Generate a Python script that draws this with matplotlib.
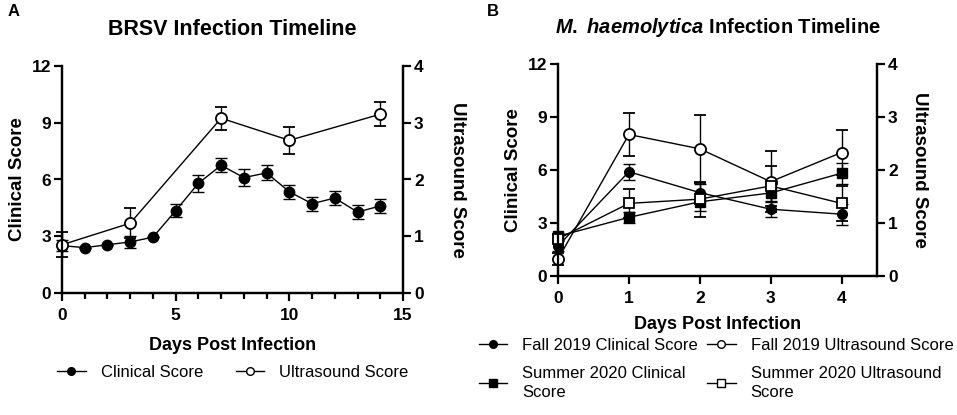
import numpy as np
import matplotlib
matplotlib.use("Agg")
import matplotlib.pyplot as plt
from matplotlib.ticker import MultipleLocator
from matplotlib.lines import Line2D

plt.rcParams['font.family'] = ['Liberation Sans', 'DejaVu Sans']
plt.rcParams['mathtext.fontset'] = 'custom'
plt.rcParams['mathtext.it'] = 'Liberation Sans:italic:bold'
plt.rcParams['mathtext.rm'] = 'Liberation Sans:bold'

# panel A: BRSV
days_a = [0, 1, 2, 3, 4, 5, 6, 7, 8, 9, 10, 11, 12, 13, 14]
clin_a = [2.5, 2.4, 2.55, 2.7, 2.95, 4.35, 5.8, 6.75, 6.1, 6.35, 5.35, 4.72, 5.02, 4.28, 4.6]
clin_a_err = [0.3, 0.0, 0.0, 0.3, 0.0, 0.35, 0.45, 0.37, 0.45, 0.4, 0.37, 0.37, 0.35, 0.37, 0.37]
us_days_a = [0, 3, 7, 10, 14]
us_a = [0.85, 1.23, 3.08, 2.69, 3.15]
us_a_err = [0.22, 0.26, 0.2, 0.24, 0.21]

# panel B: M. haemolytica
days_b = [0, 1, 2, 3, 4]
fall_clin = [1.7, 5.9, 4.72, 3.78, 3.5]
fall_clin_err = [0.3, 0.45, 0.5, 0.45, 0.6]
summer_clin = [2.25, 3.32, 4.2, 4.7, 5.82]
summer_clin_err = [0.2, 0.32, 0.5, 0.5, 0.6]
fall_us = [0.32, 2.67, 2.4, 1.78, 2.33]
fall_us_err = [0.12, 0.4, 0.64, 0.57, 0.42]
summer_us = [0.7, 1.37, 1.45, 1.7, 1.37]
summer_us_err = [0.07, 0.27, 0.33, 0.37, 0.33]

W, H = 957, 415
fig = plt.figure(figsize=(W / 100, H / 100), dpi=100)


def px_axes(l, t, r, b):
    return fig.add_axes([l / W, 1 - b / H, (r - l) / W, (b - t) / H])


def style(ax, ax2, rpad, xpad):
    for a in (ax, ax2):
        for s in a.spines.values():
            s.set_linewidth(1.6)
        a.spines['top'].set_visible(False)
        a.tick_params(direction='out', length=6, width=1.6, labelsize=12.5, pad=2)
    ax.tick_params(axis='x', pad=5)
    ax.tick_params(axis='x', which='minor', length=4, width=1.6, direction='out')
    ax.set_ylim(0, 12)
    ax.set_yticks([0, 3, 6, 9, 12])
    ax2.set_ylim(0, 4)
    ax2.set_yticks([0, 1, 2, 3, 4])
    for lab in ax.get_yticklabels() + ax2.get_yticklabels() + ax.get_xticklabels():
        lab.set_fontweight('bold')
    ax.set_ylabel('Clinical Score', fontsize=13.5, fontweight='bold', labelpad=4)
    ax2.set_ylabel('Ultrasound Score', fontsize=13.5, fontweight='bold', rotation=270, labelpad=rpad)
    ax.set_xlabel('Days Post Infection', fontsize=13, fontweight='bold', labelpad=xpad)


def handle(marker, filled):
    return Line2D([], [], color='black', lw=1.0, marker=marker, ms=5.5,
                  mfc='black' if filled else 'white', mec='black', mew=1.0)


eb = dict(color='black', lw=1.0, capsize=4, elinewidth=1.0, capthick=1.0, clip_on=False)

# ---- panel A
ax = px_axes(62, 66, 403, 293)
ax2 = ax.twinx()
ax.errorbar(days_a, clin_a, yerr=clin_a_err, fmt='-o', ms=7.5, mfc='black', mec='black', **eb)
ax2.errorbar(us_days_a, us_a, yerr=us_a_err, fmt='-o', ms=8, mfc='white', mec='black', mew=1.3, **eb)
ax.set_xlim(0, 15)
ax.set_xticks([0, 5, 10, 15])
ax.xaxis.set_minor_locator(MultipleLocator(1))
style(ax, ax2, 30, 10)
ax.set_title('BRSV Infection Timeline', fontsize=15.5, fontweight='bold', pad=22)
fig.legend([handle('o', True), handle('o', False)], ['Clinical Score', 'Ultrasound Score'],
           ncol=2, frameon=False, loc='center', bbox_to_anchor=(233 / W, 1 - 372 / H),
           fontsize=12, handlelength=1.7, columnspacing=2.0, handletextpad=0.9)
fig.text(8 / W, 1 - 12 / H, 'A', fontsize=12, fontweight='bold', va='center')

# ---- panel B
bx = px_axes(558, 64, 877, 276)
bx2 = bx.twinx()
bx.errorbar(days_b, fall_clin, yerr=fall_clin_err, fmt='-o', ms=7, mfc='black', mec='black', **eb)
bx.errorbar(days_b, summer_clin, yerr=summer_clin_err, fmt='-s', ms=6.5, mfc='black', mec='black', **eb)
bx2.errorbar(days_b, fall_us, yerr=fall_us_err, fmt='-o', ms=8, mfc='white', mec='black', mew=1.3, **eb)
bx2.errorbar(days_b, summer_us, yerr=summer_us_err, fmt='-s', ms=7.5, mfc='white', mec='black', mew=1.3, **eb)
bx.set_xlim(0, 4.5)
bx.set_xticks(days_b)
style(bx, bx2, 22, 7)
bx.set_title(r'$\mathit{M.}$ $\mathit{haemolytica}$ Infection Timeline', fontsize=14.5, fontweight='bold', pad=22)
leg = fig.legend([handle('o', True), handle('s', True), handle('o', False), handle('s', False)],
                 ['Fall 2019 Clinical Score', 'Summer 2020 Clinical\nScore',
                  'Fall 2019 Ultrasound Score', 'Summer 2020 Ultrasound\nScore'],
                 ncol=2, frameon=False, loc='upper left', bbox_to_anchor=(479 / W, 1 - 338 / H),
                 fontsize=12, handlelength=1.7, columnspacing=0.55, handletextpad=0.9,
                 labelspacing=0.75, borderaxespad=0, borderpad=0)
for t in leg.get_texts():
    t.set_linespacing(1.4)
fig.text(487 / W, 1 - 12 / H, 'B', fontsize=12, fontweight='bold', va='center')

fig.savefig('out.png', dpi=100)
